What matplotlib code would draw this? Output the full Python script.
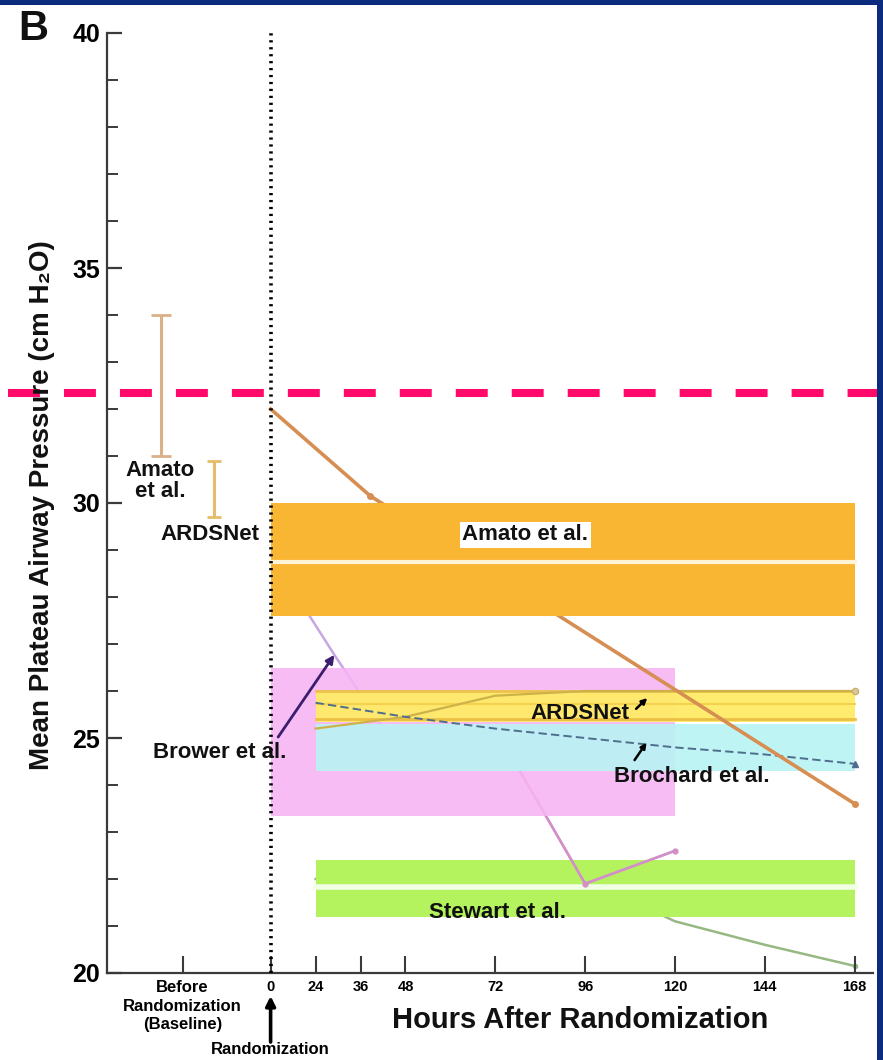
import numpy as np
import matplotlib
matplotlib.use("Agg")
import matplotlib.pyplot as plt
from matplotlib.ticker import MultipleLocator, FixedLocator
from matplotlib.transforms import blended_transform_factory
from matplotlib.patches import Rectangle

plt.rcParams["font.family"] = ["Liberation Sans", "DejaVu Sans"]
plt.rcParams["font.weight"] = "bold"
plt.rcParams["lines.scale_dashes"] = False

# ---- data -------------------------------------------------------------
# baseline (before randomization) ranges, drawn as bars
baseline_tick = -24
base_names = ["Amato\net al.", "ARDSNet"]
base_x = [-30, -15.5]
base_low = [31.0, 29.7]
base_high = [34.0, 30.9]

# shaded ranges after randomization
band_names = ["Amato et al.", "Brower et al.", "ARDSNet", "Brochard et al.", "Stewart et al."]
band_start = [0, 0, 24, 24, 24]
band_end = [168, 120, 168, 168, 168]
band_low = [27.6, 23.35, 25.35, 24.3, 21.2]
band_high = [30.0, 26.5, 26.0, 25.3, 22.4]

# course of the mean plateau pressure
amato_hours = [0, 38.6, 168]
amato_values = [32.0, 30.15, 23.6]

brower_hours = [0, 29, 48, 72, 96, 120]
brower_values = [28.9, 26.77, 24.5, 25.2, 21.9, 22.6]

ardsnet_hours = [24, 48, 72, 96, 120, 144, 168]
ardsnet_values = [25.2, 25.45, 25.9, 26.0, 26.0, 26.0, 26.0]

brochard_hours = [24, 48, 72, 96, 120, 144, 168]
brochard_values = [25.75, 25.45, 25.2, 25.0, 24.8, 24.65, 24.45]

stewart_hours = [24, 48, 72, 96, 120, 144, 168]
stewart_values = [22.0, 22.0, 22.0, 22.0, 21.1, 20.6, 20.15]

threshold = 32.35

hour_ticks = [0, 24, 36, 48, 72, 96, 120, 144, 168]

# ---- colours ------------------------------------------------------------
NAVY = "#0B2C7E"
ORANGE_BAND = "#F9B632"
PINK_BAND = "#F7B3F3"
YELLOW_BAND = "#FFEB66"
CYAN_BAND = "#B8F3F4"
GREEN_BAND = "#B4F25E"
MAGENTA = "#FF0A6A"


# broken hour axis: the first day is compressed
def fwd(h):
    h = np.asarray(h, dtype=float)
    return np.where(h < 0, h * 3.667,
                    np.where(h < 24, h * 1.875, 45 + (h - 24) * 3.742))


def inv(p):
    p = np.asarray(p, dtype=float)
    return np.where(p < 0, p / 3.667,
                    np.where(p < 45, p / 1.875, 24 + (p - 45) / 3.742))


fig = plt.figure(figsize=(8.83, 10.6), dpi=100)
fig.patch.set_facecolor("white")
ax = fig.add_axes([107 / 883, 1 - 973 / 1060, (873 - 107) / 883, (973 - 33) / 1060])
ax.set_xscale("function", functions=(fwd, inv))
ax.set_xlim(-44.6, 172.9)
ax.set_ylim(20, 40)
ax.set_facecolor("white")

# spines / ticks
for s in ("top", "right"):
    ax.spines[s].set_visible(False)
for s in ("left", "bottom"):
    ax.spines[s].set_color("#3a3a3a")
    ax.spines[s].set_linewidth(1.6)

ax.set_yticks([20, 25, 30, 35, 40])
ax.yaxis.set_minor_locator(MultipleLocator(1))
ax.tick_params(axis="y", which="major", direction="in", length=11, width=1.6,
               color="#3a3a3a", labelsize=18, pad=5)
ax.tick_params(axis="y", which="minor", direction="in", length=8, width=1.4,
               color="#3a3a3a")
for lab in ax.get_yticklabels():
    lab.set_fontweight("bold")

ax.xaxis.set_major_locator(FixedLocator([baseline_tick] + hour_ticks))
ax.xaxis.set_minor_locator(FixedLocator([]))
ax.set_xticklabels(["Before\nRandomization\n(Baseline)"] + [str(h) for h in hour_ticks])
ax.tick_params(axis="x", which="major", direction="in", length=12, width=1.5,
               color="#3a3a3a", labelsize=10.5, pad=5)
for lab in ax.get_xticklabels():
    lab.set_fontweight("bold")
    lab.set_linespacing(1.3)
ax.get_xticklabels()[0].set_fontsize(12)

# shaded ranges
band_colors = [ORANGE_BAND, PINK_BAND, YELLOW_BAND, CYAN_BAND, GREEN_BAND]
band_z = [4, 1.0, 1.2, 1.3, 0.8]
band_alpha = [1.0, 0.88, 0.95, 0.9, 1.0]
for x0, x1, lo, hi, c, z, a in zip(band_start, band_end, band_low, band_high,
                                   band_colors, band_z, band_alpha):
    ax.fill_between([x0, x1], lo, hi, color=c, lw=0, zorder=z, alpha=a)

# inner stripes of the bands
ax.plot([band_start[0], band_end[0]], [28.75, 28.75], color="#FFF5D6", lw=3, zorder=4.1)
ax.plot([band_start[4], band_end[4]], [21.83, 21.83], color="#F1FFE4", lw=4, zorder=0.85)
ax.plot([band_start[2], band_end[2]], [band_high[2], band_high[2]], color="#EBC24A", lw=2, zorder=1.25)
ax.plot([band_start[2], band_end[2]], [25.72, 25.72], color="#F3D04E", lw=1.5, zorder=1.25)
ax.plot([band_start[2], band_end[2]], [25.4, 25.4], color="#EBBE44", lw=2, zorder=1.25)

# study courses
ax.plot(amato_hours, amato_values, color="#D68E52", lw=2.6, zorder=3,
        marker="o", ms=4, markevery=[1, 2], mfc="#D68E52", mec="#D68E52")
ax.plot(brower_hours, brower_values, color="#C7A6E4", lw=1.8, zorder=0.9)
ax.plot(brower_hours[-3:], brower_values[-3:], color="#D38FC6", lw=1.8, zorder=0.95,
        marker="o", ms=3.5, markevery=[1, 2])
ax.plot(ardsnet_hours, ardsnet_values, color="#CDB24A", lw=1.6, zorder=2.2,
        marker="o", ms=4.5, markevery=[6], mfc="#D8C8A0", mec="#C8B070")
ax.plot(brochard_hours, brochard_values, color="#4E6E8C", lw=1.4, zorder=2.3,
        linestyle=(0, (6, 3)), marker="^", ms=4.5, markevery=[6])
ax.plot(stewart_hours, stewart_values, color="#96B882", lw=1.8, zorder=0.7,
        marker="o", ms=3, markevery=[6])

# baseline bars
base_colors = ["#D9B088", "#E6BC6C"]
base_caps = [7, 5]
for x, lo, hi, c, cap in zip(base_x, base_low, base_high, base_colors, base_caps):
    mid = (lo + hi) / 2
    ax.errorbar([x], [mid], yerr=[[mid - lo], [hi - mid]], fmt="none",
                ecolor=c, elinewidth=2.2, capsize=cap, capthick=2.0, zorder=3)

# randomization marker
ax.plot([0, 0], [20, 40], color="black", lw=2.6, linestyle=(0, (1.6, 3.4)),
        dash_capstyle="butt", zorder=5, clip_on=False)

# threshold line, running across the whole width
tr = blended_transform_factory(fig.transFigure, ax.transData)
ax.plot([8 / 883, 1.0], [threshold, threshold], transform=tr, color=MAGENTA,
        lw=5.8, linestyle=(0, (23.0, 17.3)), dash_capstyle="butt",
        clip_on=False, zorder=10)

# labels inside the plot
txt_kw = dict(fontsize=16, fontweight="bold", ha="center", va="center", zorder=8,
              color="#111111")
ax.text(80, 29.32, band_names[0], bbox=dict(facecolor="white", edgecolor="none", pad=2.0), **txt_kw)
ax.text(94.5, 25.53, band_names[2], **txt_kw)
ax.text(124.5, 24.19, band_names[3], **txt_kw)
ax.text(72.5, 21.29, band_names[4], **txt_kw)
ax.text(-14.0, 24.7, band_names[1], **txt_kw)
ax.text(base_x[0], 30.47, base_names[0], linespacing=0.95, **txt_kw)
ax.text(-16.5, 29.32, base_names[1], **txt_kw)

# pointer arrows
ax.annotate("", xy=(brower_hours[1], brower_values[1]), xytext=(4.0, 25.02),
            arrowprops=dict(arrowstyle="-|>", color="#3B1E6E", lw=2.0,
                            mutation_scale=12, shrinkA=0, shrinkB=0), zorder=6)
ax.annotate("", xy=(112.6, 25.85), xytext=(109.6, 25.62),
            arrowprops=dict(arrowstyle="-|>", color="black", lw=1.8,
                            mutation_scale=8, shrinkA=0, shrinkB=0), zorder=6)
ax.annotate("", xy=(112.4, 24.9), xytext=(109.2, 24.53),
            arrowprops=dict(arrowstyle="-|>", color="black", lw=1.8,
                            mutation_scale=8, shrinkA=0, shrinkB=0), zorder=6)

# randomization arrow below the axis
ax.annotate("", xy=(0, 1060 - 996), xycoords=("data", "figure pixels"),
            xytext=(0, 1060 - 1042), textcoords=("data", "figure pixels"),
            arrowprops=dict(arrowstyle="-|>", color="black", lw=2.6,
                            mutation_scale=14, shrinkA=0, shrinkB=0),
            annotation_clip=False)
ax.annotate("Randomization", xy=(0, 1060 - 1050), xycoords=("data", "figure pixels"),
            ha="center", va="center", fontsize=12, fontweight="bold",
            annotation_clip=False)

# axis titles
fig.text(580 / 883, 1 - 1020 / 1060, "Hours After Randomization", ha="center",
         va="center", fontsize=21, fontweight="bold", color="#111111")
fig.text(42 / 883, 1 - 505 / 1060, "Mean Plateau Airway Pressure (cm H\u2082O)",
         rotation=90, ha="center", va="center", fontsize=20, fontweight="bold",
         color="#111111")
fig.text(33 / 883, 1 - 29 / 1060, "B", ha="center", va="center", fontsize=30,
         fontweight="bold", color="#111111")

# navy frame along the top and the right edge
fig.patches.append(Rectangle((0, 1 - 5 / 1060), 1, 5 / 1060, transform=fig.transFigure,
                             facecolor=NAVY, edgecolor="none", zorder=20))
fig.patches.append(Rectangle((1 - 6 / 883, 0), 6 / 883, 1, transform=fig.transFigure,
                             facecolor=NAVY, edgecolor="none", zorder=20))

fig.savefig("out.png", dpi=100, facecolor="white")
